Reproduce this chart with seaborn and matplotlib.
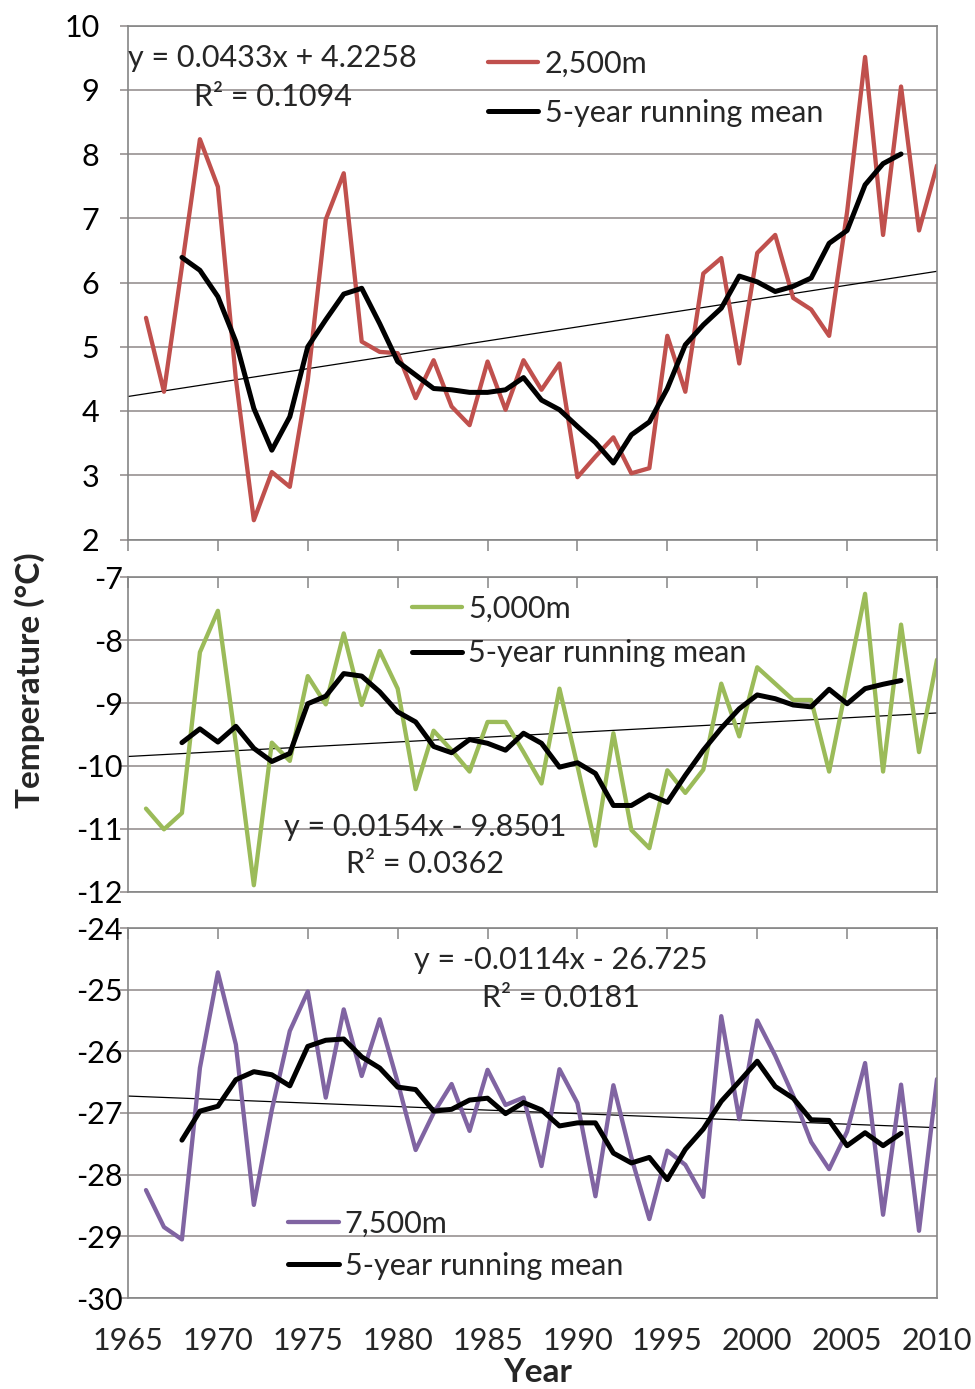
import numpy as np
import pandas as pd
import matplotlib
matplotlib.use("Agg")
import matplotlib.pyplot as plt
import seaborn as sns
from matplotlib.lines import Line2D

# Annual mean temperature by altitude level, 1966-2010
years = list(range(1966, 2011))
mean_years = list(range(1968, 2009))

temp_2500 = [5.45, 4.30, 6.25, 8.23, 7.49, 4.50, 2.30, 3.05, 2.82, 4.48,
             6.98, 7.70, 5.08, 4.92, 4.90, 4.20, 4.79, 4.07, 3.78, 4.77,
             4.02, 4.79, 4.33, 4.74, 2.97, 3.29, 3.59, 3.03, 3.11, 5.17,
             4.30, 6.14, 6.38, 4.74, 6.46, 6.74, 5.76, 5.58, 5.17, 7.10,
             9.51, 6.74, 9.05, 6.81, 7.82]
run_2500 = [6.39, 6.19, 5.78, 5.08, 4.04, 3.39, 3.91, 5.00, 5.42, 5.82,
            5.91, 5.36, 4.77, 4.56, 4.35, 4.33, 4.29, 4.29, 4.33, 4.52,
            4.17, 4.02, 3.76, 3.51, 3.19, 3.63, 3.83, 4.35, 5.03, 5.34,
            5.60, 6.10, 6.01, 5.86, 5.94, 6.07, 6.61, 6.81, 7.52, 7.85,
            8.00]

temp_5000 = [-10.68, -11.01, -10.75, -8.19, -7.53, -9.65, -11.90, -9.63, -9.92, -8.57,
             -9.02, -7.89, -9.03, -8.17, -8.77, -10.37, -9.44, -9.75, -10.09, -9.30,
             -9.30, -9.78, -10.28, -8.77, -10.00, -11.27, -9.48, -11.02, -11.31, -10.07,
             -10.43, -10.06, -8.69, -9.53, -8.43, -8.69, -8.95, -8.95, -10.09, -8.67,
             -7.26, -10.09, -7.75, -9.78, -8.31]
run_5000 = [-9.63, -9.41, -9.62, -9.37, -9.72, -9.93, -9.80, -9.01, -8.89, -8.53,
            -8.57, -8.82, -9.14, -9.30, -9.69, -9.79, -9.58, -9.64, -9.75, -9.48,
            -9.64, -10.02, -9.95, -10.12, -10.63, -10.63, -10.46, -10.58, -10.15, -9.75,
            -9.40, -9.09, -8.87, -8.93, -9.03, -9.06, -8.78, -9.01, -8.77, -8.70,
            -8.64]

temp_7500 = [-28.25, -28.85, -29.05, -26.27, -24.72, -25.89, -28.49, -26.95, -25.67, -25.03,
             -26.75, -25.32, -26.40, -25.48, -26.50, -27.60, -27.00, -26.53, -27.29, -26.30,
             -26.87, -26.75, -27.86, -26.29, -26.84, -28.35, -26.55, -27.72, -28.72, -27.61,
             -27.84, -28.36, -25.43, -27.10, -25.50, -26.07, -26.72, -27.47, -27.91, -27.30,
             -26.19, -28.65, -26.54, -28.91, -26.45]
run_7500 = [-27.44, -26.97, -26.89, -26.46, -26.33, -26.38, -26.56, -25.92, -25.82, -25.80,
            -26.09, -26.27, -26.58, -26.62, -26.97, -26.94, -26.79, -26.76, -27.01, -26.83,
            -26.95, -27.21, -27.16, -27.16, -27.65, -27.81, -27.72, -28.08, -27.59, -27.26,
            -26.81, -26.49, -26.16, -26.57, -26.76, -27.11, -27.12, -27.53, -27.32, -27.53,
            -27.33]

# Linear trend (x counted in years since 1965) and its R²
slopes = [0.0433, 0.0154, -0.0114]
intercepts = [4.2258, -9.8501, -26.725]
r_squared = [0.1094, 0.0362, 0.0181]
eq_labels = ["y = 0.0433x + 4.2258", "y = 0.0154x - 9.8501", "y = -0.0114x - 26.725"]
r2_labels = ["R² = 0.1094", "R² = 0.0362", "R² = 0.0181"]

series_labels = ["2,500m", "5,000m", "7,500m"]
series_colors = ["#C0504D", "#9BBB59", "#8064A2"]
y_limits = [(2, 10), (-12, -7), (-30, -24)]
x_ticks = list(range(1965, 2011, 5))

sns.set_theme(style="white")
plt.rcParams["font.family"] = ["Lato", "DejaVu Sans"]

FS = 22
GRID = "#8e8888"
SPINE = "#858585"
LW_SERIES = 3.1
LW_MEAN = 3.6

W, H = 975, 1389
fig = plt.figure(figsize=(W / 100, H / 100), dpi=100)

# panel rectangles in pixels: (top, bottom)
panel_px = [(25.5, 539.5), (577.5, 891.5), (928.0, 1298.0)]
left_px, right_px = 128.0, 937.0
axes = []
for top, bot in panel_px:
    ax = fig.add_axes([left_px / W, 1 - bot / H, (right_px - left_px) / W, (bot - top) / H])
    axes.append(ax)

temps = [temp_2500, temp_5000, temp_7500]
runs = [run_2500, run_5000, run_7500]

legend_anchor = [(0.445, 0.953), (0.351, 0.944), (0.198, 0.2385)]
legend_spacing = [0.69, 0.53, 0.47]
eq_pos = [(0.1786, 0.937, 0.861), (0.3671, 0.206, 0.088), (0.5352, 0.914, 0.811)]
ytick_pad = [14.5, -2.4, -2.4]

for i, ax in enumerate(axes):
    df = pd.DataFrame({"Year": years, "Temperature": temps[i]})
    dm = pd.DataFrame({"Year": mean_years, "Temperature": runs[i]})
    sns.lineplot(data=df, x="Year", y="Temperature", ax=ax, color=series_colors[i],
                 linewidth=LW_SERIES, label=series_labels[i], legend=False)
    sns.lineplot(data=dm, x="Year", y="Temperature", ax=ax, color="black",
                 linewidth=LW_MEAN, label="5-year running mean", legend=False)

    ax.set_xlim(1965, 2010)
    ax.set_ylim(*y_limits[i])
    xs = np.array(ax.get_xlim())
    ax.plot(xs, slopes[i] * (xs - 1965) + intercepts[i], color="black", linewidth=0.9, zorder=1)

    lo, hi = y_limits[i]
    ax.set_yticks(range(lo, hi + 1))
    ax.set_yticklabels([str(v) for v in range(lo, hi + 1)], fontsize=FS)
    ax.yaxis.grid(True, color=GRID, linewidth=1.1)
    ax.xaxis.grid(False)
    ax.set_axisbelow(True)
    ax.tick_params(axis="y", which="both", left=True, length=6, width=1.1, color=GRID,
                   pad=ytick_pad[i], labelcolor="black")
    ax.set_xticks(x_ticks)
    for s in ax.spines.values():
        s.set_color(SPINE)
        s.set_linewidth(1.2)
    ax.set_xlabel("")
    ax.set_ylabel("")

    handles = [Line2D([], [], color=series_colors[i], linewidth=LW_SERIES),
               Line2D([], [], color="black", linewidth=LW_MEAN)]
    ax.legend(handles, [series_labels[i], "5-year running mean"], loc="upper left",
              bbox_to_anchor=legend_anchor[i], frameon=False, fontsize=FS,
              handlelength=1.65, handletextpad=0.2, labelspacing=legend_spacing[i],
              borderpad=0, borderaxespad=0)

    cx, y1, y2 = eq_pos[i]
    ax.text(cx, y1, eq_labels[i], transform=ax.transAxes, ha="center", va="center", fontsize=FS)
    ax.text(cx, y2, r2_labels[i], transform=ax.transAxes, ha="center", va="center", fontsize=FS)

# panel 1: x ticks below, no labels
axes[0].tick_params(axis="x", bottom=True, top=False, direction="out", length=8, width=1.1,
                    color=SPINE, labelbottom=False)
# panels 2 and 3: horizontal axis sits at the top, ticks pointing into the plot
axes[1].tick_params(axis="x", bottom=False, top=True, direction="in", length=8, width=1.1,
                    color=SPINE, labelbottom=False, labeltop=False)
axes[2].tick_params(axis="x", bottom=False, top=True, direction="in", length=8, width=1.1,
                    color=SPINE, labelbottom=True, labeltop=False, labelsize=FS, pad=21)

fig.text(30 / W, 1 - 680 / H, "Temperature (°C)", rotation=90, ha="center", va="center",
         fontsize=FS + 2, fontweight="bold")
fig.text(538 / W, 1 - 1372 / H, "Year", ha="center", va="center", fontsize=FS + 2,
         fontweight="bold")

fig.savefig("out.png", dpi=100, facecolor="white")
